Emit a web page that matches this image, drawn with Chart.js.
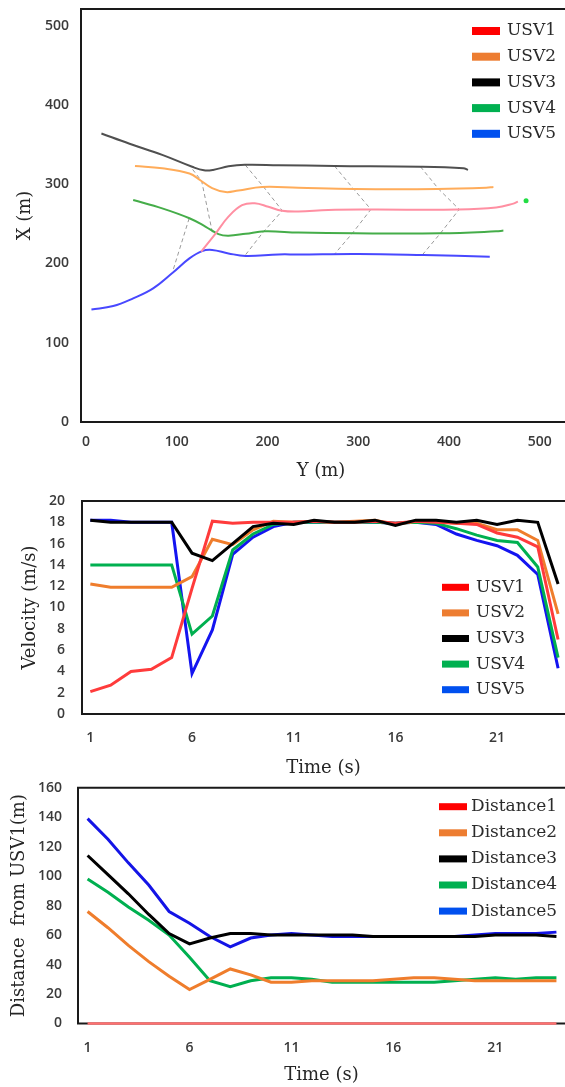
<!DOCTYPE html>
<html>
<head>
<meta charset="utf-8">
<script src="https://cdn.jsdelivr.net/npm/chart.js@4.4.0/dist/chart.umd.min.js"></script>
<style>
  html, body { margin: 0; padding: 0; background: #fff; }
  body { width: 565px; height: 1087px; position: relative; overflow: hidden; }
  .box { position: absolute; left: 0; width: 565px; }
</style>
</head>
<body>
<div class="box" style="top:0;height:485px"><canvas id="trackChart" width="565" height="485"></canvas></div>
<div class="box" style="top:485px;height:300px"><canvas id="velocityChart" width="565" height="300"></canvas></div>
<div class="box" style="top:770px;height:317px"><canvas id="distanceChart" width="565" height="317"></canvas></div>
<script>
// ---- trajectories (horizontal = Y (m), vertical = X (m)) ----
const usv1Y = [127, 143, 157, 172, 186, 201, 216, 234, 267, 314, 409, 452, 471, 476];
const usv1X = [215, 238, 259, 273.5, 276, 271.5, 266.5, 265.5, 267.5, 268, 268, 270.5, 275.5, 278];
const usv2Y = [54, 84, 114, 126, 139, 154, 168, 194, 234, 296, 387, 441, 449];
const usv2X = [323, 320, 313.5, 305, 295, 290, 292, 296.5, 295.5, 294, 294, 295.5, 296.5];
const usv3Y = [17, 48, 84, 117, 130, 140, 157, 175, 212, 274, 369, 416, 421];
const usv3X = [364, 351, 337, 322, 317.5, 318, 322.5, 324.5, 324, 323, 322, 320, 318];
const usv4Y = [52, 84, 114, 132, 146, 157, 176, 197, 234, 296, 390, 452, 460];
const usv4X = [280, 269.5, 257, 246.3, 237, 235, 237.5, 240.5, 239, 238, 238, 240.5, 241.5];
const usv5Y = [6, 30, 52, 74, 95.5, 114, 128, 139, 157, 176, 212, 234, 300, 372, 445];
const usv5X = [142, 146.3, 156, 168.6, 188.3, 206.4, 215.6, 217, 212.7, 209.5, 211.4, 211.4, 212, 210.6, 208.5];
const targetY = [485];
const targetX = [279];

// formation snapshots (dashed)
const snap1Y = [117.5, 127.5, 139.6];
const snap1X = [318.6, 303.8, 237.5];
const snap1bY = [113.7, 95.4];
const snap1bX = [256.9, 189.5];
const snap2Y = [175.6, 195.6, 216.4, 195.6, 175.6];
const snap2X = [324.1, 296.7, 266.5, 240, 210.6];
const snap3Y = [274, 294, 314, 294, 274];
const snap3X = [322.8, 295.2, 268.2, 238.7, 211.9];
const snap4Y = [368.7, 388.7, 411.3, 390.5, 370.5];
const snap4X = [322, 293.8, 268.2, 237.9, 210.6];

const trackTicks = [0, 100, 200, 300, 400, 500];

// ---- velocity and distance over time ----
const timeSteps = [1, 2, 3, 4, 5, 6, 7, 8, 9, 10, 11, 12, 13, 14, 15, 16, 17, 18, 19, 20, 21, 22, 23, 24];
const timeTicks = [1, 6, 11, 16, 21];

const vel1 = [2.1, 2.7, 4.0, 4.2, 5.3, 11.8, 18.1, 17.9, 18.0, 18.0, 18.0, 18.1, 18.0, 18.0, 18.1, 17.9, 18.1, 18.0, 17.9, 17.8, 17.0, 16.6, 15.7, 7.0];
const vel2 = [12.2, 11.9, 11.9, 11.9, 11.9, 12.9, 16.4, 15.9, 17.3, 18.1, 18.0, 18.1, 18.0, 18.1, 18.2, 17.8, 18.1, 18.1, 17.9, 17.9, 17.3, 17.3, 16.3, 9.4];
const vel3 = [18.2, 18.0, 18.0, 18.0, 18.0, 15.1, 14.4, 16.0, 17.6, 17.9, 17.8, 18.2, 18.0, 18.0, 18.2, 17.7, 18.2, 18.2, 18.0, 18.2, 17.8, 18.2, 18.0, 12.2];
const vel4 = [14.0, 14.0, 14.0, 14.0, 14.0, 7.5, 9.2, 15.4, 16.9, 17.8, 18.0, 18.0, 18.0, 18.0, 18.0, 17.9, 18.0, 17.9, 17.4, 16.8, 16.3, 16.1, 13.8, 5.3];
const vel5 = [18.2, 18.2, 18.0, 18.0, 18.0, 3.8, 7.9, 15.0, 16.6, 17.6, 18.0, 18.0, 18.0, 18.0, 18.0, 17.9, 18.0, 17.8, 16.9, 16.3, 15.8, 14.9, 13.1, 4.3];
const velTicks = [0, 2, 4, 6, 8, 10, 12, 14, 16, 18, 20];

const dist1 = [0, 0, 0, 0, 0, 0, 0, 0, 0, 0, 0, 0, 0, 0, 0, 0, 0, 0, 0, 0, 0, 0, 0, 0];
const dist2 = [76, 65, 53, 42, 32, 23, 30, 37, 33, 28, 28, 29, 29, 29, 29, 30, 31, 31, 30, 29, 29, 29, 29, 29];
const dist3 = [114, 101, 88, 74, 61, 54, 58, 61, 61, 60, 60, 60, 60, 60, 59, 59, 59, 59, 59, 59, 60, 60, 60, 59];
const dist4 = [98, 89, 79, 70, 60, 45, 29, 25, 29, 31, 31, 30, 28, 28, 28, 28, 28, 28, 29, 30, 31, 30, 31, 31];
const dist5 = [139, 125, 109, 94, 76, 68, 59, 52, 58, 60, 61, 60, 59, 59, 59, 59, 59, 59, 59, 60, 61, 61, 61, 62];
const distTicks = [0, 20, 40, 60, 80, 100, 120, 140, 160];

const usvNames = ['USV1', 'USV2', 'USV3', 'USV4', 'USV5'];
const distNames = ['Distance1', 'Distance2', 'Distance3', 'Distance4', 'Distance5'];
const keyColors = ['#ff0000', '#ed7d31', '#000000', '#00b050', '#0050ef'];

const pts = (xs, ys) => xs.map((x, i) => ({x: x, y: ys[i]}));

const tickFont = {family: 'Open Sans', size: 14, weight: '600'};
const titleFont = {family: 'DejaVu Serif', size: 18};

// frame: left, top and bottom edges of the plot box
const framePlugin = {
  id: 'frame',
  beforeDatasetsDraw(chart) {
    const ctx = chart.ctx, a = chart.chartArea;
    ctx.save();
    ctx.strokeStyle = '#1a1a1a';
    ctx.lineWidth = 2;
    ctx.beginPath();
    ctx.moveTo(a.right + 4, a.top);
    ctx.lineTo(a.left, a.top);
    ctx.lineTo(a.left, a.bottom);
    ctx.lineTo(a.right + 4, a.bottom);
    ctx.stroke();
    ctx.restore();
  }
};

const keyPlugin = {
  id: 'key',
  afterDraw(chart, args, o) {
    const ctx = chart.ctx;
    ctx.save();
    ctx.font = o.font;
    ctx.textBaseline = 'middle';
    o.labels.forEach((t, i) => {
      const y = o.y + i * o.step;
      ctx.fillStyle = o.colors[i];
      ctx.fillRect(o.x, y - o.h / 2, o.w, o.h);
      ctx.fillStyle = '#2b2b2b';
      ctx.fillText(t, o.textX, y);
    });
    ctx.restore();
  }
};

function fixedTicks(values) {
  return axis => { axis.ticks = values.map(v => ({value: v})); };
}
function fitWidth(w) {
  return s => { s.width = w; s.paddingTop = 0; s.paddingBottom = 0; };
}
function fitHeight(h) {
  return s => { s.height = h; s.paddingLeft = 0; s.paddingRight = 0; };
}

// ---------------- chart 1: trajectories ----------------
const trackLine = (label, xs, ys, color) => ({
  label: label, data: pts(xs, ys), showLine: true, borderColor: color,
  borderWidth: 2, pointRadius: 0, tension: 0.4, order: 1
});
const snapLine = (xs, ys) => ({
  label: '', data: pts(xs, ys), showLine: true, borderColor: '#9a9a9a',
  borderWidth: 1, borderDash: [4, 3], pointRadius: 0, tension: 0, order: 2
});

new Chart(document.getElementById('trackChart'), {
  type: 'scatter',
  data: {
    datasets: [
      trackLine('USV1', usv1Y, usv1X, '#ff8fa2'),
      trackLine('USV2', usv2Y, usv2X, '#ffac5a'),
      trackLine('USV3', usv3Y, usv3X, '#505050'),
      trackLine('USV4', usv4Y, usv4X, '#45ad49'),
      trackLine('USV5', usv5Y, usv5X, '#4848ff'),
      snapLine(snap1Y, snap1X),
      snapLine(snap1bY, snap1bX),
      snapLine(snap2Y, snap2X),
      snapLine(snap3Y, snap3X),
      snapLine(snap4Y, snap4X),
      {label: 'target', data: pts(targetY, targetX), pointRadius: 2.5,
       pointBackgroundColor: '#22dd44', pointBorderWidth: 0, order: 0}
    ]
  },
  options: {
    responsive: false, animation: false, events: [],
    layout: {padding: {top: 9, left: 0, right: 0, bottom: 0}},
    plugins: {
      legend: {display: false}, tooltip: {enabled: false},
      key: {labels: usvNames, colors: keyColors, x: 472, w: 28, h: 8, textX: 507,
            y: 31, step: 25.7, font: '17px "DejaVu Serif"'}
    },
    scales: {
      x: {
        type: 'linear', min: -5.5, max: 523.5,
        grid: {display: false, drawTicks: false}, border: {display: false},
        ticks: {padding: 12, font: tickFont, color: '#3a3a3a', maxRotation: 0},
        afterBuildTicks: fixedTicks(trackTicks), afterFit: fitHeight(63),
        title: {display: true, text: 'Y (m)', font: titleFont, color: '#262626', padding: {top: 0, bottom: 3}}
      },
      y: {
        type: 'linear', min: 0, max: 521,
        grid: {display: false, drawTicks: false}, border: {display: false},
        ticks: {padding: 12, font: tickFont, color: '#3a3a3a'},
        afterBuildTicks: fixedTicks(trackTicks), afterFit: fitWidth(81),
        title: {display: true, text: 'X (m)', font: titleFont, color: '#262626', padding: {top: 15, bottom: 0}}
      }
    }
  },
  plugins: [framePlugin, keyPlugin]
});

// ---------------- chart 2: velocity ----------------
const timeLine = (label, values, color, width, order) => ({
  label: label, data: pts(timeSteps, values), showLine: true, borderColor: color,
  borderWidth: width, pointRadius: 0, tension: 0, order: order, clip: 4
});

new Chart(document.getElementById('velocityChart'), {
  type: 'scatter',
  data: {
    datasets: [
      timeLine('USV1', vel1, '#ff3b3b', 3, 2),
      timeLine('USV2', vel2, '#ef7d2c', 3, 3),
      timeLine('USV3', vel3, '#000000', 3, 0),
      timeLine('USV4', vel4, '#00b050', 3, 4),
      timeLine('USV5', vel5, '#1414f0', 3, 5)
    ]
  },
  options: {
    responsive: false, animation: false, events: [],
    layout: {padding: {top: 16, left: 0, right: 0, bottom: 0}},
    plugins: {
      legend: {display: false}, tooltip: {enabled: false},
      key: {labels: usvNames, colors: keyColors, x: 442, w: 27, h: 7, textX: 476,
            y: 102.3, step: 25.6, font: '17px "DejaVu Serif"'}
    },
    scales: {
      x: {
        type: 'linear', min: 0.59, max: 24.34,
        grid: {display: false, drawTicks: false}, border: {display: false},
        ticks: {padding: 16, font: tickFont, color: '#3a3a3a', maxRotation: 0},
        afterBuildTicks: fixedTicks(timeTicks), afterFit: fitHeight(71),
        title: {display: true, text: 'Time (s)', font: titleFont, color: '#262626', padding: {top: 0, bottom: 6}}
      },
      y: {
        type: 'linear', min: 0, max: 20,
        grid: {display: false, drawTicks: false}, border: {display: false},
        ticks: {padding: 17, font: tickFont, color: '#3a3a3a'},
        afterBuildTicks: fixedTicks(velTicks), afterFit: fitWidth(82),
        title: {display: true, text: 'Velocity (m/s)', font: titleFont, color: '#262626', padding: {top: 20, bottom: 0}}
      }
    }
  },
  plugins: [framePlugin, keyPlugin]
});

// ---------------- chart 3: distance from USV1 ----------------
new Chart(document.getElementById('distanceChart'), {
  type: 'scatter',
  data: {
    datasets: [
      timeLine('Distance1', dist1, '#ff7070', 2.5, 0),
      timeLine('Distance2', dist2, '#ef7d2c', 3, 3),
      timeLine('Distance3', dist3, '#000000', 3, 1),
      timeLine('Distance4', dist4, '#00b050', 3, 4),
      timeLine('Distance5', dist5, '#1414e6', 3, 2)
    ]
  },
  options: {
    responsive: false, animation: false, events: [],
    layout: {padding: {top: 17.7, left: 0, right: 0, bottom: 0}},
    plugins: {
      legend: {display: false}, tooltip: {enabled: false},
      key: {labels: distNames, colors: keyColors, x: 439, w: 28, h: 7, textX: 471,
            y: 36.7, step: 26.1, font: '17px "DejaVu Serif"'}
    },
    scales: {
      x: {
        type: 'linear', min: 0.53, max: 24.42,
        grid: {display: false, drawTicks: false}, border: {display: false},
        ticks: {padding: 16, font: tickFont, color: '#3a3a3a', maxRotation: 0},
        afterBuildTicks: fixedTicks(timeTicks), afterFit: fitHeight(63.5),
        title: {display: true, text: 'Time (s)', font: titleFont, color: '#262626', padding: {top: 0, bottom: 1}}
      },
      y: {
        type: 'linear', min: 0, max: 160,
        grid: {display: false, drawTicks: false}, border: {display: false},
        ticks: {padding: 16, font: tickFont, color: '#3a3a3a'},
        afterBuildTicks: fixedTicks(distTicks), afterFit: fitWidth(78),
        title: {display: true, text: 'Distance  from USV1(m)', font: titleFont, color: '#262626', padding: {top: 9, bottom: 0}}
      }
    }
  },
  plugins: [framePlugin, keyPlugin]
});
</script>
</body>
</html>
